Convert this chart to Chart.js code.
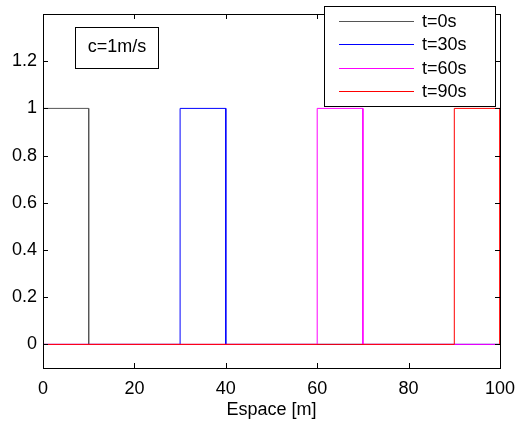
<!DOCTYPE html>
<html>
<head>
<meta charset="utf-8">
<script src="https://cdn.jsdelivr.net/npm/chart.js@4"></script>
<style>
  html, body { margin: 0; padding: 0; background: #fff; }
</style>
</head>
<body>
<canvas id="c" width="515" height="421"></canvas>
<script>
// square pulse positions at each time (x in m, y amplitude)
var labels = ['t=0s', 't=30s', 't=60s', 't=90s'];
var x0 = [0, 10, 10, 100];
var y0 = [1, 1, 0, 0];
var x30 = [0, 30, 30, 40, 40, 100];
var y30 = [0, 0, 1, 1, 0, 0];
var x60 = [0, 60, 60, 70, 70, 100];
var y60 = [0, 0, 1, 1, 0, 0];
var x90 = [0, 90, 90, 100, 100];
var y90 = [0, 0, 1, 1, 0];
var xTicks = [0, 20, 40, 60, 80, 100];
var yTicks = [0, 0.2, 0.4, 0.6, 0.8, 1, 1.2];
var note = 'c=1m/s';

var FONT = '"Liberation Sans", Arial, Helvetica, sans-serif';
var colors = ['#555555', '#0000ff', '#ff00ff', '#ff0000'];

function pts(xs, ys) {
  return xs.map(function (x, i) { return { x: x, y: ys[i] }; });
}

function ds(i, xs, ys) {
  return {
    label: labels[i],
    data: pts(xs, ys),
    borderColor: colors[i],
    borderWidth: 1,
    pointRadius: 0,
    fill: false,
    tension: 0,
    clip: false,
    order: 4 - i // later series on top, like matlab
  };
}

// box, inward ticks, text note and legend, matlab style
var matlabBox = {
  id: 'matlabBox',
  afterDraw: function (chart) {
    var c = chart.ctx, a = chart.chartArea;
    var xs = chart.scales.x, ys = chart.scales.y;
    c.save();
    c.strokeStyle = '#000';
    c.lineWidth = 1;
    c.strokeRect(Math.round(a.left) + 0.5, Math.round(a.top) + 0.5,
      Math.round(a.right - a.left), Math.round(a.bottom - a.top));
    c.beginPath();
    xTicks.forEach(function (v) {
      var px = Math.round(xs.getPixelForValue(v)) + 0.5;
      c.moveTo(px, a.bottom); c.lineTo(px, a.bottom - 5);
      c.moveTo(px, a.top); c.lineTo(px, a.top + 5);
    });
    yTicks.forEach(function (v) {
      var py = Math.round(ys.getPixelForValue(v)) + 0.5;
      c.moveTo(a.left, py); c.lineTo(a.left + 5, py);
      c.moveTo(a.right, py); c.lineTo(a.right - 5, py);
    });
    c.stroke();

    // annotation box
    c.fillStyle = '#fff';
    c.fillRect(75.5, 27.5, 83, 41);
    c.strokeRect(75.5, 27.5, 83, 41);
    c.fillStyle = '#000';
    c.font = '18px ' + FONT;
    c.textAlign = 'center';
    c.textBaseline = 'middle';
    c.fillText(note, 117, 47);

    // legend
    c.fillStyle = '#fff';
    c.fillRect(324.5, 6.5, 171, 100);
    c.strokeStyle = '#000';
    c.strokeRect(324.5, 6.5, 171, 100);
    c.textAlign = 'left';
    labels.forEach(function (lab, i) {
      var ry = Math.round(21 + i * 23.4);
      c.fillStyle = colors[i];
      c.fillRect(339, ry, 75, 1);
      c.fillStyle = '#000';
      c.fillText(lab, 422, ry + 1);
    });
    c.restore();
  }
};

new Chart(document.getElementById('c').getContext('2d'), {
  type: 'line',
  data: {
    datasets: [
      ds(0, x0, y0),
      ds(1, x30, y30),
      ds(2, x60, y60),
      ds(3, x90, y90)
    ]
  },
  options: {
    responsive: false,
    animation: false,
    layout: { padding: { top: 14, right: 15, left: 0, bottom: 0 } },
    plugins: {
      legend: { display: false },
      tooltip: { enabled: false }
    },
    scales: {
      x: {
        type: 'linear',
        min: 0,
        max: 100,
        afterBuildTicks: function (s) { s.ticks = xTicks.map(function (v) { return { value: v }; }); },
        afterFit: function (s) { s.height = 53; s.paddingLeft = 0; s.paddingRight = 0; },
        grid: { display: false, drawTicks: false },
        border: { display: false },
        ticks: {
          color: '#000', padding: 10, maxRotation: 0,
          font: { size: 18, family: FONT },
          callback: function (v) { return String(v); }
        },
        title: {
          display: true,
          text: 'Espace [m]',
          color: '#000',
          font: { size: 18, family: FONT },
          padding: { top: 0, bottom: 0 }
        }
      },
      y: {
        type: 'linear',
        min: -0.1,
        max: 1.4,
        afterBuildTicks: function (s) { s.ticks = yTicks.map(function (v) { return { value: v }; }); },
        afterFit: function (s) { s.width = 43; s.paddingTop = 0; s.paddingBottom = 0; },
        grid: { display: false, drawTicks: false },
        border: { display: false },
        ticks: {
          color: '#000', padding: 6,
          font: { size: 18, family: FONT },
          callback: function (v) { return String(v); }
        }
      }
    }
  },
  plugins: [matlabBox]
});
</script>
</body>
</html>
